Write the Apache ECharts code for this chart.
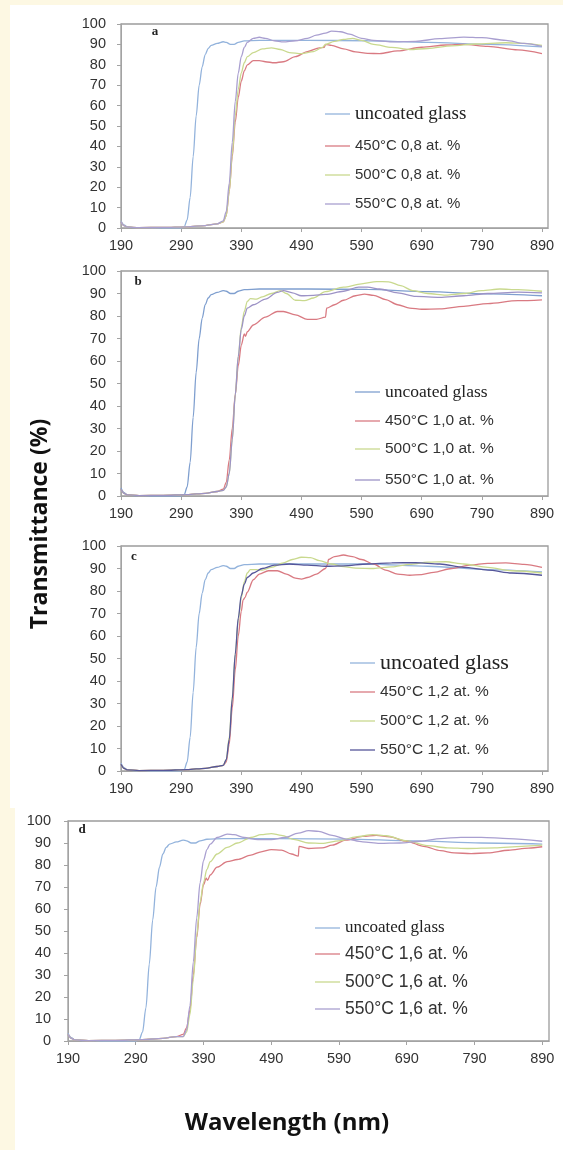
<!DOCTYPE html>
<html><head><meta charset="utf-8">
<script src="https://cdn.jsdelivr.net/npm/echarts@6/dist/echarts.min.js"></script>
<style>html,body{margin:0;padding:0;background:#fdf8e3;} #c{width:563px;height:1150px;}</style>
</head><body><div id="c"></div><script>
// ---------- data (wavelength nm, transmittance %) ----------
const xTickLabels = [190, 290, 390, 490, 590, 690, 790, 890];
const yTickLabels = [0, 10, 20, 30, 40, 50, 60, 70, 80, 90, 100];
const panelLetters = ['a', 'b', 'c', 'd'];
const namesA = ['uncoated glass', '450°C 0,8 at. %', '500°C 0,8 at. %', '550°C 0,8 at. %'];
const namesB = ['uncoated glass', '450°C 1,0 at. %', '500°C 1,0 at. %', '550°C 1,0 at. %'];
const namesC = ['uncoated glass', '450°C 1,2 at. %', '500°C 1,2 at. %', '550°C 1,2 at. %'];
const namesD = ['uncoated glass', '450°C 1,6 at. %', '500°C 1,6 at. %', '550°C 1,6 at. %'];

const glassA = [[190,3.5],[195,1.5],[200,0.6],[210,0.2],[250,0],[290,0],[295,0.5],[300,4],[305,15],[310,35],[315,55],[320,70],[325,79],[330,85],[335,88],[340,89.5],[350,90.5],[360,91.3],[365,91],[372,90],[378,90],[385,91],[395,91.7],[420,92],[500,92],[600,91.8],[700,91],[800,90],[890,88.8]];
const a450 = [[190,3],[195,1.2],[200,0.5],[220,0.2],[260,0.3],[300,0.6],[330,1.2],[350,2],[360,3],[365,6],[370,18],[375,35],[380,52],[385,64],[390,72],[395,77],[400,80],[410,82],[420,82],[430,81.5],[445,81],[460,81.5],[480,84],[500,86.5],[520,88.3],[528,88.5],[530,90],[540,89.5],[560,87.8],[580,86.3],[600,85.6],[620,85.5],[650,86.8],[690,88.6],[730,89.7],[760,90],[800,89],[850,87.3],[890,85.5]];
const a500 = [[190,3],[195,1.2],[200,0.5],[220,0.2],[260,0.3],[300,0.6],[330,1.2],[350,2],[360,3],[365,6],[370,18],[375,36],[380,55],[385,68],[390,76],[395,81],[400,84],[410,86],[425,87.8],[440,88.3],[455,87.5],[470,86],[490,85.5],[510,86.5],[525,88.5],[530,90],[545,91.5],[560,92.5],[575,93],[590,92],[610,90],[640,88.5],[670,87.5],[700,88],[740,89.3],[780,90.2],[830,90.8],[860,90.5],[890,89.5]];
const a550 = [[190,3],[195,1.2],[200,0.5],[220,0.2],[260,0.3],[300,0.6],[330,1.2],[350,2],[360,3.5],[365,8],[370,22],[375,42],[380,62],[385,76],[390,84],[395,88.5],[400,91],[410,93],[420,93.5],[430,93],[445,91.8],[460,91.2],[480,91.8],[500,93],[515,94.5],[530,95.5],[540,96.5],[555,96.2],[570,95],[590,93],[610,92],[640,91.2],[680,91.5],[720,92.8],[760,93.6],[790,93.3],[830,92],[860,90.5],[890,89]];

const glassB = [[190,3.5],[195,1.5],[200,0.6],[210,0.2],[250,0],[290,0],[295,0.5],[300,4],[305,15],[310,35],[315,55],[320,70],[325,79],[330,85],[335,88],[340,89.5],[350,90.5],[360,91.3],[365,91],[372,90],[378,90],[385,91],[395,91.7],[420,92],[500,92],[600,91.8],[700,90.8],[800,89.8],[890,89]];
const b450 = [[190,3],[195,1.2],[200,0.5],[220,0.2],[260,0.3],[300,0.6],[330,1.2],[350,2],[360,3],[365,6],[370,16],[375,30],[380,45],[385,58],[390,67],[395,72],[397,71],[400,73],[410,76],[430,79.5],[450,82],[460,82],[480,80.5],[500,78.5],[515,78.5],[530,79.5],[532,83.5],[545,85],[560,87],[580,89],[595,89.7],[610,89.2],[630,87.3],[650,85],[670,83.5],[690,83],[720,83.2],[760,84.3],[800,85.5],[850,86.8],[890,87.2]];
const b500 = [[190,3],[195,1.2],[200,0.5],[220,0.2],[260,0.3],[300,0.6],[330,1.2],[350,2],[360,2.5],[365,4],[370,10],[375,25],[380,45],[385,62],[390,75],[395,82],[400,86.5],[405,87.7],[415,87.5],[425,88.5],[440,90],[455,91.3],[465,90],[480,87],[495,86.8],[510,88],[530,90.8],[560,92.8],[590,94.3],[615,95.3],[635,95.2],[655,93.5],[675,91.3],[700,90],[730,89.3],[760,90],[790,91.3],[820,92],[850,91.7],[890,91]];
const b550 = [[190,3],[195,1.2],[200,0.5],[220,0.2],[260,0.3],[300,0.6],[330,1.2],[350,2],[360,2.5],[365,4],[370,10],[375,25],[380,45],[385,62],[390,74],[395,80],[400,83.5],[410,85],[430,87.5],[450,90.5],[460,91.3],[475,90.3],[490,89],[510,89.2],[530,89.6],[560,91],[585,92.8],[600,92.8],[620,92],[650,90.3],[680,88.7],[720,88.3],[760,89],[800,90],[850,90.6],[890,90.3]];

const glassC = [[190,3.5],[195,1.5],[200,0.6],[210,0.2],[250,0],[290,0],[295,0.5],[300,4],[305,15],[310,35],[315,55],[320,70],[325,79],[330,85],[335,88],[340,89.5],[350,90.5],[360,91.3],[365,91],[372,90],[378,90],[385,91],[395,91.7],[420,92],[500,92],[600,92],[700,91],[800,89.5],[890,88.5]];
const c450 = [[190,3],[195,1.2],[200,0.5],[220,0.2],[260,0.3],[300,0.6],[330,1.2],[350,2],[360,2.5],[365,4],[370,12],[375,28],[380,45],[385,60],[390,71],[393,76],[396,77],[400,79.5],[410,85],[420,87.5],[435,89],[450,89],[465,87.5],[480,85.7],[490,85.3],[500,86],[515,87.5],[530,90],[533,91.5],[535,94],[545,95.3],[560,96],[575,95.3],[590,94],[610,92],[630,89.3],[650,87.5],[670,87],[690,87.3],[710,88.3],[740,90],[770,91.5],[800,92.3],[830,92.5],[860,91.8],[890,90.5]];
const c500 = [[190,3],[195,1.2],[200,0.5],[220,0.2],[260,0.3],[300,0.6],[330,1.2],[350,2],[360,2.5],[365,5],[370,15],[375,33],[380,52],[385,67],[390,77],[395,84],[400,88],[405,89.5],[415,89.5],[425,89.3],[440,90.5],[460,92.5],[475,94],[490,95],[505,94.8],[520,93.5],[540,92],[560,90.8],[580,90.2],[610,90],[640,90.7],[670,91.8],[700,92.8],[730,93],[760,92],[800,90.5],[840,89],[890,88]];
const c550 = [[190,3],[195,1.2],[200,0.5],[220,0.2],[260,0.3],[300,0.6],[330,1.2],[350,2],[360,2.5],[365,5],[370,14],[375,32],[380,52],[385,68],[390,78],[395,83],[400,86],[410,88],[425,90],[445,91.5],[470,92],[500,91.5],[530,91],[560,91.2],[600,92],[640,92.5],[680,92.6],[720,92],[760,90.5],[800,89.3],[840,88],[890,87]];

const glassD = [[190,3.5],[195,1.5],[200,0.6],[210,0.2],[250,0],[290,0],[295,0.5],[300,4],[305,15],[310,35],[315,55],[320,70],[325,79],[330,85],[335,88],[340,89.5],[350,90.5],[360,91.3],[365,91],[372,90],[378,90],[385,91],[395,91.7],[420,92],[500,92],[600,91.8],[700,91],[800,90],[890,89.5]];
const d450 = [[190,3],[195,1.2],[200,0.5],[220,0.2],[260,0.3],[300,0.6],[330,1.2],[350,2],[360,3],[365,6],[370,14],[375,30],[380,47],[385,62],[390,71],[394,74],[396,73],[400,75.5],[410,79],[425,81.5],[440,82.5],[460,84.5],[475,86],[490,87],[505,86.8],[520,85],[530,84],[531,88.5],[545,87.5],[565,87.8],[580,89],[600,91.3],[625,93],[645,93.5],[665,92.8],[690,90.8],[715,88.5],[740,86.5],[760,85.5],[785,85.2],[810,85.5],[840,86.7],[870,87.7],[890,88.3]];
const d500 = [[190,3],[195,1.2],[200,0.5],[220,0.2],[260,0.3],[300,0.6],[330,1.2],[350,2],[360,2],[365,4],[370,12],[375,28],[380,48],[385,63],[390,72],[395,78],[400,81.5],[410,85],[425,88],[440,90],[460,92.5],[475,93.8],[490,94.3],[505,93.5],[525,91.5],[545,90],[565,89.8],[590,91],[615,92.8],[640,93.8],[660,93.3],[690,91],[720,88.8],[750,87.8],[780,87.5],[820,87.8],[860,88.5],[890,89]];
const d550 = [[190,3],[195,1.2],[200,0.5],[220,0.2],[260,0.3],[300,0.6],[330,1.2],[350,2],[360,2],[365,5],[370,16],[375,36],[380,56],[385,72],[390,82],[395,87],[400,89.5],[410,92.5],[425,94],[435,93.8],[450,92.5],[470,91.5],[490,91.5],[510,92.5],[530,94.5],[545,95.6],[560,95.3],[580,93.5],[600,91.8],[625,90.5],[650,89.8],[680,90],[710,90.8],[740,92],[770,92.6],[800,92.6],[840,92],[890,90.8]];

// ---------- layout / style ----------
const X0 = xTickLabels[0];
const colGlass = '#93b3dc', col450 = '#d97a82', col500 = '#c9d98e', col550 = '#a99fd0';
const panels = [
  {grid:{left:121, top:24, width:427, height:204}, names:namesA, data:[glassA,a450,a500,a550],
   cols:[colGlass,col450,col500,col550], letter:[155,32],
   leg:{x:325, ys:[114,146,175,204], serif:19, sans:15}, lblMargin:15},
  {grid:{left:121, top:271, width:427, height:225}, names:namesB, data:[glassB,b450,b500,b550],
   cols:['#7f9fcf',col450,col500,'#9d93c6'], letter:[138,282],
   leg:{x:355, ys:[392,421,449,480], serif:17.5, sans:15.5}, lblMargin:15},
  {grid:{left:121, top:546, width:427, height:225}, names:namesC, data:[glassC,c450,c500,c550],
   cols:[colGlass,col450,col500,'#55569a'], letter:[134,557],
   leg:{x:350, ys:[662,692,721,750], serif:22, sans:15.5}, lblMargin:15},
  {grid:{left:68, top:821, width:481, height:220}, names:namesD, data:[glassD,d450,d500,d550],
   cols:[colGlass,col450,col500,col550], letter:[82,830],
   leg:{x:315, ys:[928,954,982,1009], serif:17, sans:17.5}, lblMargin:17}
];

const axisCol = '#a3a3a3';
const grids = [], xAxes = [], yAxes = [], series = [], legends = [], graphics = [];
// backgrounds
graphics.push({type:'rect', shape:{x:10, y:5, width:553, height:803}, style:{fill:'#ffffff'}, z:-10});
graphics.push({type:'rect', shape:{x:15, y:808, width:548, height:342}, style:{fill:'#ffffff'}, z:-10});

panels.forEach((p, i) => {
  grids.push(Object.assign({show:true, borderColor:'#9c9c9c', borderWidth:1.3, backgroundColor:'#fff'}, p.grid));
  xAxes.push({type:'value', gridIndex:i, min:0, max:710, interval:100,
    axisLine:{show:true, lineStyle:{color:axisCol, width:1}},
    axisTick:{show:true, length:4, lineStyle:{color:axisCol}, customValues:xTickLabels.map(v=>v-X0)},
    axisLabel:{color:'#333', fontFamily:'Liberation Sans, Arial', fontSize:14.5, margin:10,
      customValues:xTickLabels.map(v=>v-X0), formatter:v=>String(v+X0)},
    splitLine:{show:false}});
  yAxes.push({type:'value', gridIndex:i, min:0, max:100, interval:10,
    axisLine:{show:true, lineStyle:{color:axisCol, width:1}},
    axisTick:{show:true, length:4, lineStyle:{color:axisCol}},
    axisLabel:{color:'#333', fontFamily:'Liberation Sans, Arial', fontSize:14.5, margin:p.lblMargin},
    splitLine:{show:false}});
  p.names.forEach((nm, k) => {
    series.push({type:'line', name:nm, xAxisIndex:i, yAxisIndex:i, symbol:'none',
      smooth:0.3, smoothMonotone:'x', color:p.cols[k],
      lineStyle:{width:1.3, color:p.cols[k]},
      data:p.data[k].map(d=>[d[0]-X0, d[1]])});
    legends.push({left:p.leg.x, top:p.leg.ys[k]-10, padding:0, itemWidth:25, itemHeight:1.3,
      icon:'rect', selectedMode:false,
      data:[{name:nm, icon:'rect', itemStyle:{color:p.cols[k], borderWidth:0}}],
      textStyle: k===0 ? {fontFamily:'Liberation Serif, Times New Roman', fontSize:p.leg.serif, color:'#222', lineHeight:20}
                       : {fontFamily:'Liberation Sans, Arial', fontSize:p.leg.sans, color:'#333', lineHeight:20}});
  });
  graphics.push({type:'text', x:p.letter[0], y:p.letter[1],
    style:{text:panelLetters[i], font:'bold 13px "Liberation Serif"', fill:'#222', align:'center', verticalAlign:'middle'}});
});

graphics.push({type:'text', x:40, y:524, rotation:Math.PI/2,
  style:{text:'Transmittance (%)', font:'bold 23px "Open Sans"', fill:'#111', align:'center', verticalAlign:'middle'}});
graphics.push({type:'text', x:287, y:1123,
  style:{text:'Wavelength (nm)', font:'bold 24px "Open Sans"', fill:'#111', align:'center', verticalAlign:'middle'}});

const chart = echarts.init(document.getElementById('c'), null, {renderer:'canvas'});
chart.setOption({animation:false, backgroundColor:'#fdf8e3', grid:grids, xAxis:xAxes, yAxis:yAxes,
  series:series, legend:legends, graphic:graphics});
</script></body></html>
